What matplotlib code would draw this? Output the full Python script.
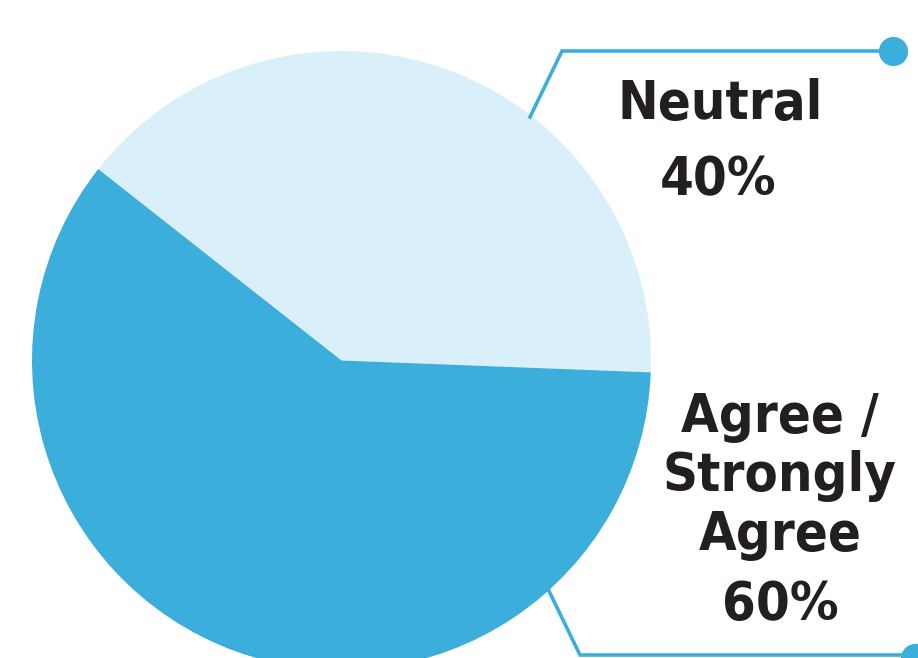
import matplotlib

matplotlib.use("Agg")
import matplotlib.pyplot as plt

labels = ["Neutral", "Agree /\nStrongly\nAgree"]
shares = [40, 60]
colors = ["#d9eff9", "#3baedb"]

ink = "#231f20"
line_blue = "#3baedb"

W, H = 918, 658
fig = plt.figure(figsize=(W / 100, H / 100), dpi=100)
ax = fig.add_axes([0, 0, 1, 1])

# pie in pixel-like coordinates (y up)
cx, cy, r = 341.5, H - 360.5, 309.5
ax.pie(shares, colors=colors, startangle=-2.2, counterclock=True,
       center=(cx, cy), radius=r, frame=True,
       wedgeprops=dict(linewidth=0))

ax.set_xlim(0, W)
ax.set_ylim(0, H)
ax.set_aspect("equal")
ax.axis("off")

# callout leaders
ax.plot([530, 562, 893], [H - 117, H - 51, H - 51], color=line_blue, lw=2.6,
        solid_joinstyle="miter", zorder=3)
ax.plot([893], [H - 51], "o", color=line_blue, ms=20, zorder=4)
ax.plot([548, 580, 910], [H - 589, H - 655, H - 655], color=line_blue, lw=2.6,
        solid_joinstyle="miter", zorder=3, clip_on=False)
ax.plot([915], [H - 658], "o", color=line_blue, ms=20, zorder=4)

font = dict(family="DejaVu Sans", stretch="condensed", weight="bold",
            color=ink, ha="center", va="center")
ax.text(720, H - 104, labels[0], fontsize=39, **font)
ax.text(718, H - 180, f"{shares[0]}%", fontsize=39, **font)
ax.text(780, H - 476, labels[1], fontsize=39, linespacing=1.18, **font)
ax.text(780, H - 605, f"{shares[1]}%", fontsize=39, **font)

fig.savefig("out.png", dpi=100)
